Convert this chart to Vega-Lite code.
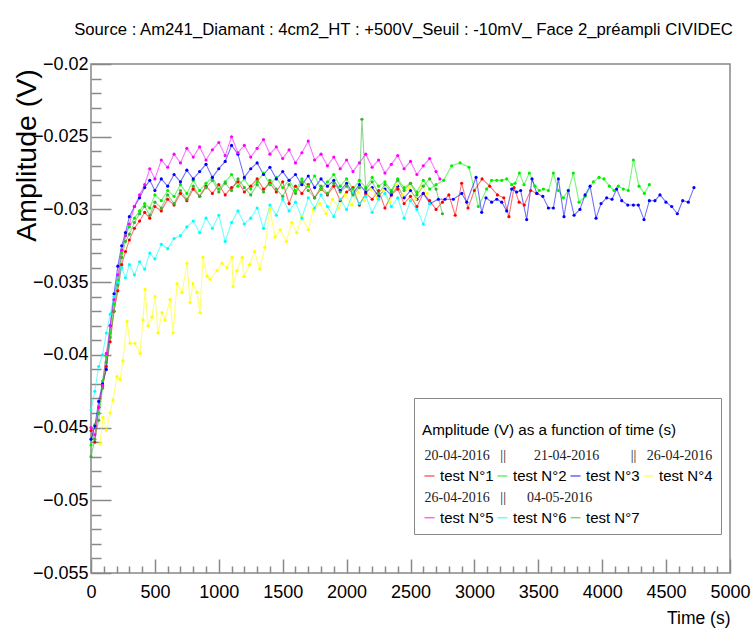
{
  "$schema": "https://vega.github.io/schema/vega-lite/v6.json",
  "width": 639,
  "height": 509,
  "autosize": "none",
  "padding": {"left": 91, "top": 64, "right": 22, "bottom": 62},
  "background": "white",
  "config": {"view": {"stroke": "#888888", "strokeWidth": 1.5}},
  "title": {"text": "Source : Am241_Diamant : 4cm2_HT : +500V_Seuil : -10mV_ Face 2_préampli CIVIDEC", "font": "Liberation Sans", "fontSize": 16.7, "fontWeight": "normal", "color": "black", "anchor": "middle", "frame": "group", "baseline": "alphabetic", "offset": 3, "dx": -7},
  "datasets": {
    "series": [
      {"test":"test N°1","t":0,"amp":-0.0452},{"test":"test N°1","t":30,"amp":-0.0460},{"test":"test N°1","t":60,"amp":-0.0436},{"test":"test N°1","t":90,"amp":-0.0422},{"test":"test N°1","t":120,"amp":-0.0408},{"test":"test N°1","t":150,"amp":-0.0391},{"test":"test N°1","t":180,"amp":-0.0370},{"test":"test N°1","t":210,"amp":-0.0356},{"test":"test N°1","t":240,"amp":-0.0338},{"test":"test N°1","t":270,"amp":-0.0329},{"test":"test N°1","t":300,"amp":-0.0321},{"test":"test N°1","t":340,"amp":-0.0313},{"test":"test N°1","t":380,"amp":-0.0308},{"test":"test N°1","t":420,"amp":-0.0302},{"test":"test N°1","t":460,"amp":-0.0306},{"test":"test N°1","t":500,"amp":-0.0298},{"test":"test N°1","t":550,"amp":-0.0301},{"test":"test N°1","t":600,"amp":-0.0293},{"test":"test N°1","t":650,"amp":-0.0297},{"test":"test N°1","t":700,"amp":-0.0289},{"test":"test N°1","t":750,"amp":-0.0294},{"test":"test N°1","t":800,"amp":-0.0286},{"test":"test N°1","t":850,"amp":-0.0291},{"test":"test N°1","t":900,"amp":-0.0284},{"test":"test N°1","t":950,"amp":-0.0289},{"test":"test N°1","t":1000,"amp":-0.0283},{"test":"test N°1","t":1050,"amp":-0.0290},{"test":"test N°1","t":1100,"amp":-0.0285},{"test":"test N°1","t":1150,"amp":-0.0281},{"test":"test N°1","t":1200,"amp":-0.0288},{"test":"test N°1","t":1250,"amp":-0.0284},{"test":"test N°1","t":1300,"amp":-0.0279},{"test":"test N°1","t":1350,"amp":-0.0286},{"test":"test N°1","t":1400,"amp":-0.0282},{"test":"test N°1","t":1450,"amp":-0.0288},{"test":"test N°1","t":1500,"amp":-0.0281},{"test":"test N°1","t":1550,"amp":-0.0296},{"test":"test N°1","t":1600,"amp":-0.0284},{"test":"test N°1","t":1650,"amp":-0.0289},{"test":"test N°1","t":1700,"amp":-0.0283},{"test":"test N°1","t":1750,"amp":-0.0292},{"test":"test N°1","t":1800,"amp":-0.0286},{"test":"test N°1","t":1850,"amp":-0.0290},{"test":"test N°1","t":1900,"amp":-0.0284},{"test":"test N°1","t":1950,"amp":-0.0294},{"test":"test N°1","t":2000,"amp":-0.0288},{"test":"test N°1","t":2050,"amp":-0.0285},{"test":"test N°1","t":2100,"amp":-0.0297},{"test":"test N°1","t":2150,"amp":-0.0289},{"test":"test N°1","t":2200,"amp":-0.0293},{"test":"test N°1","t":2250,"amp":-0.0287},{"test":"test N°1","t":2300,"amp":-0.0299},{"test":"test N°1","t":2350,"amp":-0.0290},{"test":"test N°1","t":2400,"amp":-0.0286},{"test":"test N°1","t":2450,"amp":-0.0296},{"test":"test N°1","t":2500,"amp":-0.0291},{"test":"test N°1","t":2550,"amp":-0.0298},{"test":"test N°1","t":2600,"amp":-0.0289},{"test":"test N°1","t":2650,"amp":-0.0294},{"test":"test N°1","t":2700,"amp":-0.0300},{"test":"test N°1","t":2750,"amp":-0.0295},{"test":"test N°1","t":2800,"amp":-0.0290},{"test":"test N°1","t":2850,"amp":-0.0304},{"test":"test N°1","t":2900,"amp":-0.0282},{"test":"test N°1","t":2950,"amp":-0.0299},{"test":"test N°1","t":3000,"amp":-0.0287},{"test":"test N°1","t":3060,"amp":-0.0279},{"test":"test N°1","t":3120,"amp":-0.0284},{"test":"test N°1","t":3180,"amp":-0.0290},{"test":"test N°1","t":3230,"amp":-0.0292},{"test":"test N°1","t":3270,"amp":-0.0305},{"test":"test N°1","t":3310,"amp":-0.0285},{"test":"test N°1","t":3350,"amp":-0.0295},{"test":"test N°1","t":3390,"amp":-0.0297},{"test":"test N°1","t":3440,"amp":-0.0287},{"test":"test N°1","t":3490,"amp":-0.0289},
      {"test":"test N°2","t":0,"amp":-0.0462},{"test":"test N°2","t":30,"amp":-0.0448},{"test":"test N°2","t":60,"amp":-0.0440},{"test":"test N°2","t":90,"amp":-0.0418},{"test":"test N°2","t":120,"amp":-0.0401},{"test":"test N°2","t":150,"amp":-0.0385},{"test":"test N°2","t":180,"amp":-0.0365},{"test":"test N°2","t":210,"amp":-0.0349},{"test":"test N°2","t":240,"amp":-0.0330},{"test":"test N°2","t":270,"amp":-0.0318},{"test":"test N°2","t":300,"amp":-0.0312},{"test":"test N°2","t":340,"amp":-0.0306},{"test":"test N°2","t":380,"amp":-0.0301},{"test":"test N°2","t":420,"amp":-0.0296},{"test":"test N°2","t":460,"amp":-0.0299},{"test":"test N°2","t":500,"amp":-0.0290},{"test":"test N°2","t":550,"amp":-0.0294},{"test":"test N°2","t":600,"amp":-0.0287},{"test":"test N°2","t":650,"amp":-0.0291},{"test":"test N°2","t":700,"amp":-0.0283},{"test":"test N°2","t":750,"amp":-0.0289},{"test":"test N°2","t":800,"amp":-0.0280},{"test":"test N°2","t":850,"amp":-0.0287},{"test":"test N°2","t":900,"amp":-0.0282},{"test":"test N°2","t":950,"amp":-0.0278},{"test":"test N°2","t":1000,"amp":-0.0286},{"test":"test N°2","t":1050,"amp":-0.0281},{"test":"test N°2","t":1100,"amp":-0.0276},{"test":"test N°2","t":1150,"amp":-0.0284},{"test":"test N°2","t":1200,"amp":-0.0279},{"test":"test N°2","t":1250,"amp":-0.0286},{"test":"test N°2","t":1300,"amp":-0.0281},{"test":"test N°2","t":1350,"amp":-0.0275},{"test":"test N°2","t":1400,"amp":-0.0283},{"test":"test N°2","t":1450,"amp":-0.0278},{"test":"test N°2","t":1500,"amp":-0.0285},{"test":"test N°2","t":1550,"amp":-0.0280},{"test":"test N°2","t":1600,"amp":-0.0287},{"test":"test N°2","t":1650,"amp":-0.0279},{"test":"test N°2","t":1700,"amp":-0.0284},{"test":"test N°2","t":1750,"amp":-0.0277},{"test":"test N°2","t":1800,"amp":-0.0286},{"test":"test N°2","t":1850,"amp":-0.0281},{"test":"test N°2","t":1900,"amp":-0.0276},{"test":"test N°2","t":1950,"amp":-0.0284},{"test":"test N°2","t":2000,"amp":-0.0279},{"test":"test N°2","t":2050,"amp":-0.0286},{"test":"test N°2","t":2100,"amp":-0.0280},{"test":"test N°2","t":2150,"amp":-0.0285},{"test":"test N°2","t":2200,"amp":-0.0278},{"test":"test N°2","t":2250,"amp":-0.0284},{"test":"test N°2","t":2300,"amp":-0.0281},{"test":"test N°2","t":2350,"amp":-0.0287},{"test":"test N°2","t":2400,"amp":-0.0279},{"test":"test N°2","t":2450,"amp":-0.0285},{"test":"test N°2","t":2500,"amp":-0.0282},{"test":"test N°2","t":2550,"amp":-0.0288},{"test":"test N°2","t":2600,"amp":-0.0280},{"test":"test N°2","t":2650,"amp":-0.0286},{"test":"test N°2","t":2700,"amp":-0.0283},{"test":"test N°2","t":2760,"amp":-0.0280},{"test":"test N°2","t":2822,"amp":-0.0270},{"test":"test N°2","t":2888,"amp":-0.0268},{"test":"test N°2","t":2958,"amp":-0.0271},{"test":"test N°2","t":3031,"amp":-0.0298},{"test":"test N°2","t":3096,"amp":-0.0286},{"test":"test N°2","t":3135,"amp":-0.0280},{"test":"test N°2","t":3175,"amp":-0.0280},{"test":"test N°2","t":3214,"amp":-0.0280},{"test":"test N°2","t":3253,"amp":-0.0279},{"test":"test N°2","t":3292,"amp":-0.0283},{"test":"test N°2","t":3318,"amp":-0.0282},{"test":"test N°2","t":3352,"amp":-0.0275},{"test":"test N°2","t":3388,"amp":-0.0283},{"test":"test N°2","t":3430,"amp":-0.0275},{"test":"test N°2","t":3474,"amp":-0.0284},{"test":"test N°2","t":3508,"amp":-0.0287},{"test":"test N°2","t":3540,"amp":-0.0286},{"test":"test N°2","t":3579,"amp":-0.0287},{"test":"test N°2","t":3618,"amp":-0.0275},{"test":"test N°2","t":3657,"amp":-0.0287},{"test":"test N°2","t":3696,"amp":-0.0292},{"test":"test N°2","t":3735,"amp":-0.0287},{"test":"test N°2","t":3774,"amp":-0.0275},{"test":"test N°2","t":3819,"amp":-0.0295},{"test":"test N°2","t":3866,"amp":-0.0291},{"test":"test N°2","t":3931,"amp":-0.0281},{"test":"test N°2","t":3975,"amp":-0.0278},{"test":"test N°2","t":4014,"amp":-0.0279},{"test":"test N°2","t":4056,"amp":-0.0284},{"test":"test N°2","t":4093,"amp":-0.0287},{"test":"test N°2","t":4126,"amp":-0.0284},{"test":"test N°2","t":4165,"amp":-0.0286},{"test":"test N°2","t":4204,"amp":-0.0287},{"test":"test N°2","t":4244,"amp":-0.0266},{"test":"test N°2","t":4288,"amp":-0.0284},{"test":"test N°2","t":4330,"amp":-0.0289},{"test":"test N°2","t":4369,"amp":-0.0283},
      {"test":"test N°3","t":0,"amp":-0.0458},{"test":"test N°3","t":30,"amp":-0.0449},{"test":"test N°3","t":60,"amp":-0.0432},{"test":"test N°3","t":90,"amp":-0.0420},{"test":"test N°3","t":120,"amp":-0.0410},{"test":"test N°3","t":150,"amp":-0.0380},{"test":"test N°3","t":180,"amp":-0.0358},{"test":"test N°3","t":210,"amp":-0.0339},{"test":"test N°3","t":240,"amp":-0.0325},{"test":"test N°3","t":270,"amp":-0.0316},{"test":"test N°3","t":300,"amp":-0.0305},{"test":"test N°3","t":340,"amp":-0.0298},{"test":"test N°3","t":380,"amp":-0.0292},{"test":"test N°3","t":420,"amp":-0.0285},{"test":"test N°3","t":460,"amp":-0.0280},{"test":"test N°3","t":500,"amp":-0.0287},{"test":"test N°3","t":550,"amp":-0.0279},{"test":"test N°3","t":600,"amp":-0.0284},{"test":"test N°3","t":650,"amp":-0.0276},{"test":"test N°3","t":700,"amp":-0.0281},{"test":"test N°3","t":750,"amp":-0.0273},{"test":"test N°3","t":800,"amp":-0.0279},{"test":"test N°3","t":850,"amp":-0.0274},{"test":"test N°3","t":900,"amp":-0.0269},{"test":"test N°3","t":950,"amp":-0.0278},{"test":"test N°3","t":1000,"amp":-0.0272},{"test":"test N°3","t":1050,"amp":-0.0267},{"test":"test N°3","t":1100,"amp":-0.0256},{"test":"test N°3","t":1150,"amp":-0.0262},{"test":"test N°3","t":1200,"amp":-0.0278},{"test":"test N°3","t":1250,"amp":-0.0272},{"test":"test N°3","t":1300,"amp":-0.0268},{"test":"test N°3","t":1350,"amp":-0.0276},{"test":"test N°3","t":1400,"amp":-0.0271},{"test":"test N°3","t":1450,"amp":-0.0279},{"test":"test N°3","t":1500,"amp":-0.0274},{"test":"test N°3","t":1550,"amp":-0.0280},{"test":"test N°3","t":1600,"amp":-0.0276},{"test":"test N°3","t":1650,"amp":-0.0283},{"test":"test N°3","t":1700,"amp":-0.0277},{"test":"test N°3","t":1750,"amp":-0.0285},{"test":"test N°3","t":1800,"amp":-0.0279},{"test":"test N°3","t":1850,"amp":-0.0284},{"test":"test N°3","t":1900,"amp":-0.0280},{"test":"test N°3","t":1950,"amp":-0.0287},{"test":"test N°3","t":2000,"amp":-0.0282},{"test":"test N°3","t":2050,"amp":-0.0289},{"test":"test N°3","t":2100,"amp":-0.0283},{"test":"test N°3","t":2150,"amp":-0.0288},{"test":"test N°3","t":2200,"amp":-0.0285},{"test":"test N°3","t":2250,"amp":-0.0291},{"test":"test N°3","t":2300,"amp":-0.0286},{"test":"test N°3","t":2350,"amp":-0.0290},{"test":"test N°3","t":2400,"amp":-0.0284},{"test":"test N°3","t":2450,"amp":-0.0292},{"test":"test N°3","t":2500,"amp":-0.0287},{"test":"test N°3","t":2550,"amp":-0.0293},{"test":"test N°3","t":2600,"amp":-0.0289},{"test":"test N°3","t":2653,"amp":-0.0296},{"test":"test N°3","t":2718,"amp":-0.0293},{"test":"test N°3","t":2770,"amp":-0.0293},{"test":"test N°3","t":2835,"amp":-0.0293},{"test":"test N°3","t":2901,"amp":-0.0289},{"test":"test N°3","t":2940,"amp":-0.0295},{"test":"test N°3","t":3013,"amp":-0.0278},{"test":"test N°3","t":3057,"amp":-0.0302},{"test":"test N°3","t":3091,"amp":-0.0292},{"test":"test N°3","t":3135,"amp":-0.0295},{"test":"test N°3","t":3175,"amp":-0.0293},{"test":"test N°3","t":3214,"amp":-0.0295},{"test":"test N°3","t":3253,"amp":-0.0301},{"test":"test N°3","t":3292,"amp":-0.0286},{"test":"test N°3","t":3331,"amp":-0.0288},{"test":"test N°3","t":3362,"amp":-0.0287},{"test":"test N°3","t":3409,"amp":-0.0307},{"test":"test N°3","t":3451,"amp":-0.0279},{"test":"test N°3","t":3488,"amp":-0.0289},{"test":"test N°3","t":3535,"amp":-0.0291},{"test":"test N°3","t":3579,"amp":-0.0299},{"test":"test N°3","t":3618,"amp":-0.0299},{"test":"test N°3","t":3657,"amp":-0.0279},{"test":"test N°3","t":3701,"amp":-0.0305},{"test":"test N°3","t":3735,"amp":-0.0287},{"test":"test N°3","t":3780,"amp":-0.0304},{"test":"test N°3","t":3826,"amp":-0.0300},{"test":"test N°3","t":3866,"amp":-0.0290},{"test":"test N°3","t":3905,"amp":-0.0284},{"test":"test N°3","t":3952,"amp":-0.0306},{"test":"test N°3","t":3991,"amp":-0.0296},{"test":"test N°3","t":4035,"amp":-0.0292},{"test":"test N°3","t":4077,"amp":-0.0293},{"test":"test N°3","t":4113,"amp":-0.0286},{"test":"test N°3","t":4153,"amp":-0.0294},{"test":"test N°3","t":4200,"amp":-0.0297},{"test":"test N°3","t":4244,"amp":-0.0297},{"test":"test N°3","t":4283,"amp":-0.0297},{"test":"test N°3","t":4327,"amp":-0.0307},{"test":"test N°3","t":4369,"amp":-0.0294},{"test":"test N°3","t":4413,"amp":-0.0294},{"test":"test N°3","t":4452,"amp":-0.0290},{"test":"test N°3","t":4499,"amp":-0.0295},{"test":"test N°3","t":4544,"amp":-0.0298},{"test":"test N°3","t":4588,"amp":-0.0303},{"test":"test N°3","t":4630,"amp":-0.0294},{"test":"test N°3","t":4674,"amp":-0.0295},{"test":"test N°3","t":4718,"amp":-0.0285},
      {"test":"test N°4","t":70,"amp":-0.0461},{"test":"test N°4","t":94,"amp":-0.0443},{"test":"test N°4","t":120,"amp":-0.0452},{"test":"test N°4","t":149,"amp":-0.0440},{"test":"test N°4","t":172,"amp":-0.0431},{"test":"test N°4","t":203,"amp":-0.0415},{"test":"test N°4","t":227,"amp":-0.0417},{"test":"test N°4","t":250,"amp":-0.0404},{"test":"test N°4","t":282,"amp":-0.0377},{"test":"test N°4","t":305,"amp":-0.0392},{"test":"test N°4","t":344,"amp":-0.0392},{"test":"test N°4","t":383,"amp":-0.0399},{"test":"test N°4","t":407,"amp":-0.0376},{"test":"test N°4","t":423,"amp":-0.0355},{"test":"test N°4","t":446,"amp":-0.0380},{"test":"test N°4","t":477,"amp":-0.0374},{"test":"test N°4","t":501,"amp":-0.0360},{"test":"test N°4","t":524,"amp":-0.0385},{"test":"test N°4","t":556,"amp":-0.0371},{"test":"test N°4","t":579,"amp":-0.0376},{"test":"test N°4","t":618,"amp":-0.0362},{"test":"test N°4","t":642,"amp":-0.0385},{"test":"test N°4","t":673,"amp":-0.0351},{"test":"test N°4","t":712,"amp":-0.0357},{"test":"test N°4","t":751,"amp":-0.0337},{"test":"test N°4","t":775,"amp":-0.0364},{"test":"test N°4","t":798,"amp":-0.0351},{"test":"test N°4","t":829,"amp":-0.0357},{"test":"test N°4","t":853,"amp":-0.0371},{"test":"test N°4","t":876,"amp":-0.0333},{"test":"test N°4","t":908,"amp":-0.0346},{"test":"test N°4","t":931,"amp":-0.0348},{"test":"test N°4","t":986,"amp":-0.0342},{"test":"test N°4","t":1025,"amp":-0.0337},{"test":"test N°4","t":1064,"amp":-0.0340},{"test":"test N°4","t":1103,"amp":-0.0333},{"test":"test N°4","t":1111,"amp":-0.0353},{"test":"test N°4","t":1142,"amp":-0.0342},{"test":"test N°4","t":1182,"amp":-0.0333},{"test":"test N°4","t":1197,"amp":-0.0346},{"test":"test N°4","t":1240,"amp":-0.0338},{"test":"test N°4","t":1280,"amp":-0.0329},{"test":"test N°4","t":1320,"amp":-0.0341},{"test":"test N°4","t":1360,"amp":-0.0326},{"test":"test N°4","t":1400,"amp":-0.0300},{"test":"test N°4","t":1440,"amp":-0.0319},{"test":"test N°4","t":1480,"amp":-0.0314},{"test":"test N°4","t":1530,"amp":-0.0322},{"test":"test N°4","t":1570,"amp":-0.0309},{"test":"test N°4","t":1610,"amp":-0.0316},{"test":"test N°4","t":1650,"amp":-0.0305},{"test":"test N°4","t":1700,"amp":-0.0314},{"test":"test N°4","t":1740,"amp":-0.0300},{"test":"test N°4","t":1790,"amp":-0.0296},{"test":"test N°4","t":1840,"amp":-0.0303},{"test":"test N°4","t":1890,"amp":-0.0293},{"test":"test N°4","t":1940,"amp":-0.0299},{"test":"test N°4","t":1990,"amp":-0.0290},{"test":"test N°4","t":2040,"amp":-0.0297},{"test":"test N°4","t":2090,"amp":-0.0288},{"test":"test N°4","t":2140,"amp":-0.0294},{"test":"test N°4","t":2190,"amp":-0.0286},{"test":"test N°4","t":2240,"amp":-0.0292},{"test":"test N°4","t":2290,"amp":-0.0287},{"test":"test N°4","t":2340,"amp":-0.0295},{"test":"test N°4","t":2390,"amp":-0.0283},{"test":"test N°4","t":2440,"amp":-0.0290},{"test":"test N°4","t":2490,"amp":-0.0285},{"test":"test N°4","t":2540,"amp":-0.0293},{"test":"test N°4","t":2590,"amp":-0.0284},{"test":"test N°4","t":2630,"amp":-0.0289},
      {"test":"test N°5","t":0,"amp":-0.0450},{"test":"test N°5","t":30,"amp":-0.0455},{"test":"test N°5","t":60,"amp":-0.0436},{"test":"test N°5","t":90,"amp":-0.0421},{"test":"test N°5","t":120,"amp":-0.0399},{"test":"test N°5","t":150,"amp":-0.0380},{"test":"test N°5","t":180,"amp":-0.0362},{"test":"test N°5","t":210,"amp":-0.0345},{"test":"test N°5","t":240,"amp":-0.0328},{"test":"test N°5","t":270,"amp":-0.0318},{"test":"test N°5","t":300,"amp":-0.0310},{"test":"test N°5","t":340,"amp":-0.0298},{"test":"test N°5","t":380,"amp":-0.0290},{"test":"test N°5","t":420,"amp":-0.0283},{"test":"test N°5","t":460,"amp":-0.0272},{"test":"test N°5","t":500,"amp":-0.0279},{"test":"test N°5","t":550,"amp":-0.0266},{"test":"test N°5","t":600,"amp":-0.0271},{"test":"test N°5","t":650,"amp":-0.0262},{"test":"test N°5","t":700,"amp":-0.0268},{"test":"test N°5","t":750,"amp":-0.0258},{"test":"test N°5","t":800,"amp":-0.0264},{"test":"test N°5","t":850,"amp":-0.0257},{"test":"test N°5","t":900,"amp":-0.0266},{"test":"test N°5","t":950,"amp":-0.0259},{"test":"test N°5","t":1000,"amp":-0.0254},{"test":"test N°5","t":1050,"amp":-0.0263},{"test":"test N°5","t":1100,"amp":-0.0250},{"test":"test N°5","t":1150,"amp":-0.0261},{"test":"test N°5","t":1200,"amp":-0.0256},{"test":"test N°5","t":1250,"amp":-0.0264},{"test":"test N°5","t":1300,"amp":-0.0258},{"test":"test N°5","t":1350,"amp":-0.0252},{"test":"test N°5","t":1400,"amp":-0.0262},{"test":"test N°5","t":1450,"amp":-0.0257},{"test":"test N°5","t":1500,"amp":-0.0265},{"test":"test N°5","t":1550,"amp":-0.0259},{"test":"test N°5","t":1600,"amp":-0.0268},{"test":"test N°5","t":1650,"amp":-0.0261},{"test":"test N°5","t":1700,"amp":-0.0253},{"test":"test N°5","t":1750,"amp":-0.0266},{"test":"test N°5","t":1800,"amp":-0.0262},{"test":"test N°5","t":1850,"amp":-0.0270},{"test":"test N°5","t":1900,"amp":-0.0264},{"test":"test N°5","t":1950,"amp":-0.0272},{"test":"test N°5","t":2000,"amp":-0.0266},{"test":"test N°5","t":2050,"amp":-0.0274},{"test":"test N°5","t":2100,"amp":-0.0268},{"test":"test N°5","t":2150,"amp":-0.0262},{"test":"test N°5","t":2200,"amp":-0.0271},{"test":"test N°5","t":2250,"amp":-0.0266},{"test":"test N°5","t":2300,"amp":-0.0275},{"test":"test N°5","t":2350,"amp":-0.0269},{"test":"test N°5","t":2400,"amp":-0.0263},{"test":"test N°5","t":2450,"amp":-0.0272},{"test":"test N°5","t":2500,"amp":-0.0267},{"test":"test N°5","t":2550,"amp":-0.0276},{"test":"test N°5","t":2600,"amp":-0.0270},{"test":"test N°5","t":2650,"amp":-0.0265},{"test":"test N°5","t":2700,"amp":-0.0274},{"test":"test N°5","t":2730,"amp":-0.0279},
      {"test":"test N°6","t":0,"amp":-0.0438},{"test":"test N°6","t":30,"amp":-0.0425},{"test":"test N°6","t":60,"amp":-0.0408},{"test":"test N°6","t":90,"amp":-0.0400},{"test":"test N°6","t":120,"amp":-0.0385},{"test":"test N°6","t":150,"amp":-0.0372},{"test":"test N°6","t":180,"amp":-0.0360},{"test":"test N°6","t":210,"amp":-0.0350},{"test":"test N°6","t":240,"amp":-0.0340},{"test":"test N°6","t":270,"amp":-0.0347},{"test":"test N°6","t":300,"amp":-0.0338},{"test":"test N°6","t":340,"amp":-0.0345},{"test":"test N°6","t":380,"amp":-0.0336},{"test":"test N°6","t":420,"amp":-0.0341},{"test":"test N°6","t":460,"amp":-0.0330},{"test":"test N°6","t":500,"amp":-0.0334},{"test":"test N°6","t":550,"amp":-0.0324},{"test":"test N°6","t":600,"amp":-0.0327},{"test":"test N°6","t":650,"amp":-0.0320},{"test":"test N°6","t":700,"amp":-0.0318},{"test":"test N°6","t":750,"amp":-0.0312},{"test":"test N°6","t":800,"amp":-0.0308},{"test":"test N°6","t":850,"amp":-0.0316},{"test":"test N°6","t":900,"amp":-0.0306},{"test":"test N°6","t":950,"amp":-0.0313},{"test":"test N°6","t":1000,"amp":-0.0304},{"test":"test N°6","t":1050,"amp":-0.0322},{"test":"test N°6","t":1100,"amp":-0.0309},{"test":"test N°6","t":1150,"amp":-0.0301},{"test":"test N°6","t":1200,"amp":-0.0310},{"test":"test N°6","t":1250,"amp":-0.0306},{"test":"test N°6","t":1300,"amp":-0.0299},{"test":"test N°6","t":1350,"amp":-0.0313},{"test":"test N°6","t":1400,"amp":-0.0297},{"test":"test N°6","t":1450,"amp":-0.0304},{"test":"test N°6","t":1500,"amp":-0.0293},{"test":"test N°6","t":1550,"amp":-0.0301},{"test":"test N°6","t":1600,"amp":-0.0295},{"test":"test N°6","t":1650,"amp":-0.0306},{"test":"test N°6","t":1700,"amp":-0.0292},{"test":"test N°6","t":1750,"amp":-0.0299},{"test":"test N°6","t":1800,"amp":-0.0290},{"test":"test N°6","t":1850,"amp":-0.0298},{"test":"test N°6","t":1900,"amp":-0.0305},{"test":"test N°6","t":1950,"amp":-0.0293},{"test":"test N°6","t":2000,"amp":-0.0300},{"test":"test N°6","t":2050,"amp":-0.0289},{"test":"test N°6","t":2100,"amp":-0.0296},{"test":"test N°6","t":2150,"amp":-0.0291},{"test":"test N°6","t":2200,"amp":-0.0302},{"test":"test N°6","t":2250,"amp":-0.0293},{"test":"test N°6","t":2300,"amp":-0.0289},{"test":"test N°6","t":2350,"amp":-0.0298},{"test":"test N°6","t":2400,"amp":-0.0292},{"test":"test N°6","t":2450,"amp":-0.0306},{"test":"test N°6","t":2500,"amp":-0.0294},{"test":"test N°6","t":2550,"amp":-0.0300},{"test":"test N°6","t":2600,"amp":-0.0310},{"test":"test N°6","t":2650,"amp":-0.0296},
      {"test":"test N°7","t":0,"amp":-0.0470},{"test":"test N°7","t":30,"amp":-0.0458},{"test":"test N°7","t":60,"amp":-0.0445},{"test":"test N°7","t":90,"amp":-0.0423},{"test":"test N°7","t":120,"amp":-0.0405},{"test":"test N°7","t":150,"amp":-0.0388},{"test":"test N°7","t":180,"amp":-0.0370},{"test":"test N°7","t":210,"amp":-0.0352},{"test":"test N°7","t":240,"amp":-0.0333},{"test":"test N°7","t":270,"amp":-0.0322},{"test":"test N°7","t":300,"amp":-0.0317},{"test":"test N°7","t":340,"amp":-0.0309},{"test":"test N°7","t":380,"amp":-0.0303},{"test":"test N°7","t":420,"amp":-0.0298},{"test":"test N°7","t":460,"amp":-0.0304},{"test":"test N°7","t":500,"amp":-0.0295},{"test":"test N°7","t":550,"amp":-0.0299},{"test":"test N°7","t":600,"amp":-0.0290},{"test":"test N°7","t":650,"amp":-0.0296},{"test":"test N°7","t":700,"amp":-0.0287},{"test":"test N°7","t":750,"amp":-0.0293},{"test":"test N°7","t":800,"amp":-0.0284},{"test":"test N°7","t":850,"amp":-0.0291},{"test":"test N°7","t":900,"amp":-0.0285},{"test":"test N°7","t":950,"amp":-0.0280},{"test":"test N°7","t":1000,"amp":-0.0288},{"test":"test N°7","t":1050,"amp":-0.0282},{"test":"test N°7","t":1100,"amp":-0.0287},{"test":"test N°7","t":1150,"amp":-0.0279},{"test":"test N°7","t":1200,"amp":-0.0285},{"test":"test N°7","t":1250,"amp":-0.0290},{"test":"test N°7","t":1300,"amp":-0.0283},{"test":"test N°7","t":1350,"amp":-0.0288},{"test":"test N°7","t":1400,"amp":-0.0280},{"test":"test N°7","t":1450,"amp":-0.0286},{"test":"test N°7","t":1500,"amp":-0.0291},{"test":"test N°7","t":1550,"amp":-0.0283},{"test":"test N°7","t":1600,"amp":-0.0289},{"test":"test N°7","t":1650,"amp":-0.0281},{"test":"test N°7","t":1700,"amp":-0.0287},{"test":"test N°7","t":1750,"amp":-0.0292},{"test":"test N°7","t":1800,"amp":-0.0284},{"test":"test N°7","t":1850,"amp":-0.0289},{"test":"test N°7","t":1900,"amp":-0.0282},{"test":"test N°7","t":1950,"amp":-0.0288},{"test":"test N°7","t":2000,"amp":-0.0284},{"test":"test N°7","t":2050,"amp":-0.0290},{"test":"test N°7","t":2100,"amp":-0.0285},{"test":"test N°7","t":2120,"amp":-0.0238},{"test":"test N°7","t":2150,"amp":-0.0286},{"test":"test N°7","t":2200,"amp":-0.0281},{"test":"test N°7","t":2250,"amp":-0.0289},{"test":"test N°7","t":2300,"amp":-0.0283},{"test":"test N°7","t":2350,"amp":-0.0288},{"test":"test N°7","t":2400,"amp":-0.0280},{"test":"test N°7","t":2450,"amp":-0.0287},{"test":"test N°7","t":2500,"amp":-0.0282},{"test":"test N°7","t":2550,"amp":-0.0290},{"test":"test N°7","t":2600,"amp":-0.0284},{"test":"test N°7","t":2650,"amp":-0.0279},{"test":"test N°7","t":2700,"amp":-0.0286},{"test":"test N°7","t":2750,"amp":-0.0303}
    ]
  },
  "data": {"name": "series"},
  "layer": [
    {
      "mark": {"type": "line", "strokeWidth": 1.1, "strokeOpacity": 0.55, "point": {"filled": true, "size": 10, "opacity": 1}},
      "encoding": {
        "x": {"field": "t", "type": "quantitative", "scale": {"domain": [0, 5000], "nice": false, "zero": false},
          "axis": {"orient": "bottom", "values": [0,500,1000,1500,2000,2500,3000,3500,4000,4500,5000], "format": "d", "domain": false, "grid": false, "tickSize": -14, "tickColor": "#888888", "tickWidth": 1.5, "labelFont": "Liberation Sans", "labelFontSize": 18, "labelColor": "black", "labelPadding": 24, "labelFlush": false, "labelOverlap": false, "labelBaseline": "top",
            "title": "Time (s)", "titleFont": "Liberation Sans", "titleFontSize": 17.5, "titleFontWeight": "normal", "titleColor": "black", "titleAlign": "right", "titleBaseline": "alphabetic", "titleX": 639, "titleY": 50}},
        "y": {"field": "amp", "type": "quantitative", "scale": {"domain": [-0.055, -0.02], "nice": false, "zero": false},
          "axis": {"orient": "left", "values": [-0.055,-0.05,-0.045,-0.04,-0.035,-0.03,-0.025,-0.02], "format": "~g", "domain": false, "grid": false, "tickSize": -20, "tickColor": "#888888", "tickWidth": 1.5, "labelFont": "Liberation Sans", "labelFontSize": 18, "labelColor": "black", "labelPadding": 23, "labelFlush": false, "labelOverlap": false, "labelBaseline": "middle",
            "title": "Amplitude (V)", "titleFont": "Liberation Sans", "titleFontSize": 28.5, "titleFontWeight": "normal", "titleColor": "black", "titleAngle": 270, "titleAlign": "center", "titleBaseline": "middle", "titleX": -65, "titleY": 91}},
        "color": {"field": "test", "type": "nominal",
          "scale": {"domain": ["test N°1","test N°2","test N°3","test N°4","test N°5","test N°6","test N°7"], "range": ["#ff0000","#00ee00","#0000ff","#ffff00","#ff00ff","#00ffff","#2fb52f"]},
          "legend": {"orient": "none", "legendX": 323, "legendY": 334, "columns": 4, "direction": "horizontal",
            "title": "Amplitude (V) as a function of time (s)", "titleFont": "Liberation Sans", "titleFontSize": 15.2, "titleFontWeight": "normal", "titleColor": "black", "titleBaseline": "line-top", "titleLineHeight": 49, "titlePadding": 47, "titleLimit": 400,
            "labelFont": "Liberation Sans", "labelFontSize": 15, "labelColor": "black", "labelOffset": 3, "labelLimit": 200,
            "symbolType": "stroke", "symbolSize": 100, "symbolStrokeWidth": 1.5, "symbolOpacity": 0.6,
            "columnPadding": 0, "rowPadding": 26, "padding": 8, "strokeColor": "#888888"}
        }
      }
    },
    {
      "mark": {"type": "point", "opacity": 0, "size": 1},
      "encoding": {
        "x": {"field": "t", "type": "quantitative",
          "axis": {"orient": "bottom", "values": [100,200,300,400,600,700,800,900,1100,1200,1300,1400,1600,1700,1800,1900,2100,2200,2300,2400,2600,2700,2800,2900,3100,3200,3300,3400,3600,3700,3800,3900,4100,4200,4300,4400,4600,4700,4800,4900], "labels": false, "domain": false, "grid": false, "tickSize": -7, "tickColor": "#888888", "tickWidth": 1.5,
            "title": "26-04-2016\u00a0\u00a0\u00a0||\u00a0\u00a0\u00a0\u00a0\u00a0\u00a004-05-2016", "titleFont": "Liberation Serif", "titleFontSize": 14, "titleFontWeight": "normal", "titleColor": "#222222", "titleAlign": "left", "titleBaseline": "alphabetic", "titleAngle": 0, "titleX": 333, "titleY": -72}},
        "y": {"field": "amp", "type": "quantitative",
          "axis": {"orient": "left", "values": [-0.054,-0.053,-0.052,-0.051,-0.049,-0.048,-0.047,-0.046,-0.044,-0.043,-0.042,-0.041,-0.039,-0.038,-0.037,-0.036,-0.034,-0.033,-0.032,-0.031,-0.029,-0.028,-0.027,-0.026,-0.024,-0.023,-0.022,-0.021], "labels": false, "domain": false, "grid": false, "tickSize": -10, "tickColor": "#888888", "tickWidth": 1.5,
            "title": "20-04-2016\u00a0\u00a0\u00a0||\u00a0\u00a0\u00a0\u00a0\u00a0\u00a0\u00a0\u00a021-04-2016\u00a0\u00a0\u00a0\u00a0\u00a0\u00a0\u00a0\u00a0\u00a0||\u00a0\u00a0\u00a026-04-2016", "titleFont": "Liberation Serif", "titleFontSize": 14, "titleFontWeight": "normal", "titleColor": "#222222", "titleAlign": "left", "titleBaseline": "alphabetic", "titleAngle": 0, "titleX": 333, "titleY": 395}}
      }
    }
  ],
  "resolve": {"axis": {"x": "independent", "y": "independent"}}
}
